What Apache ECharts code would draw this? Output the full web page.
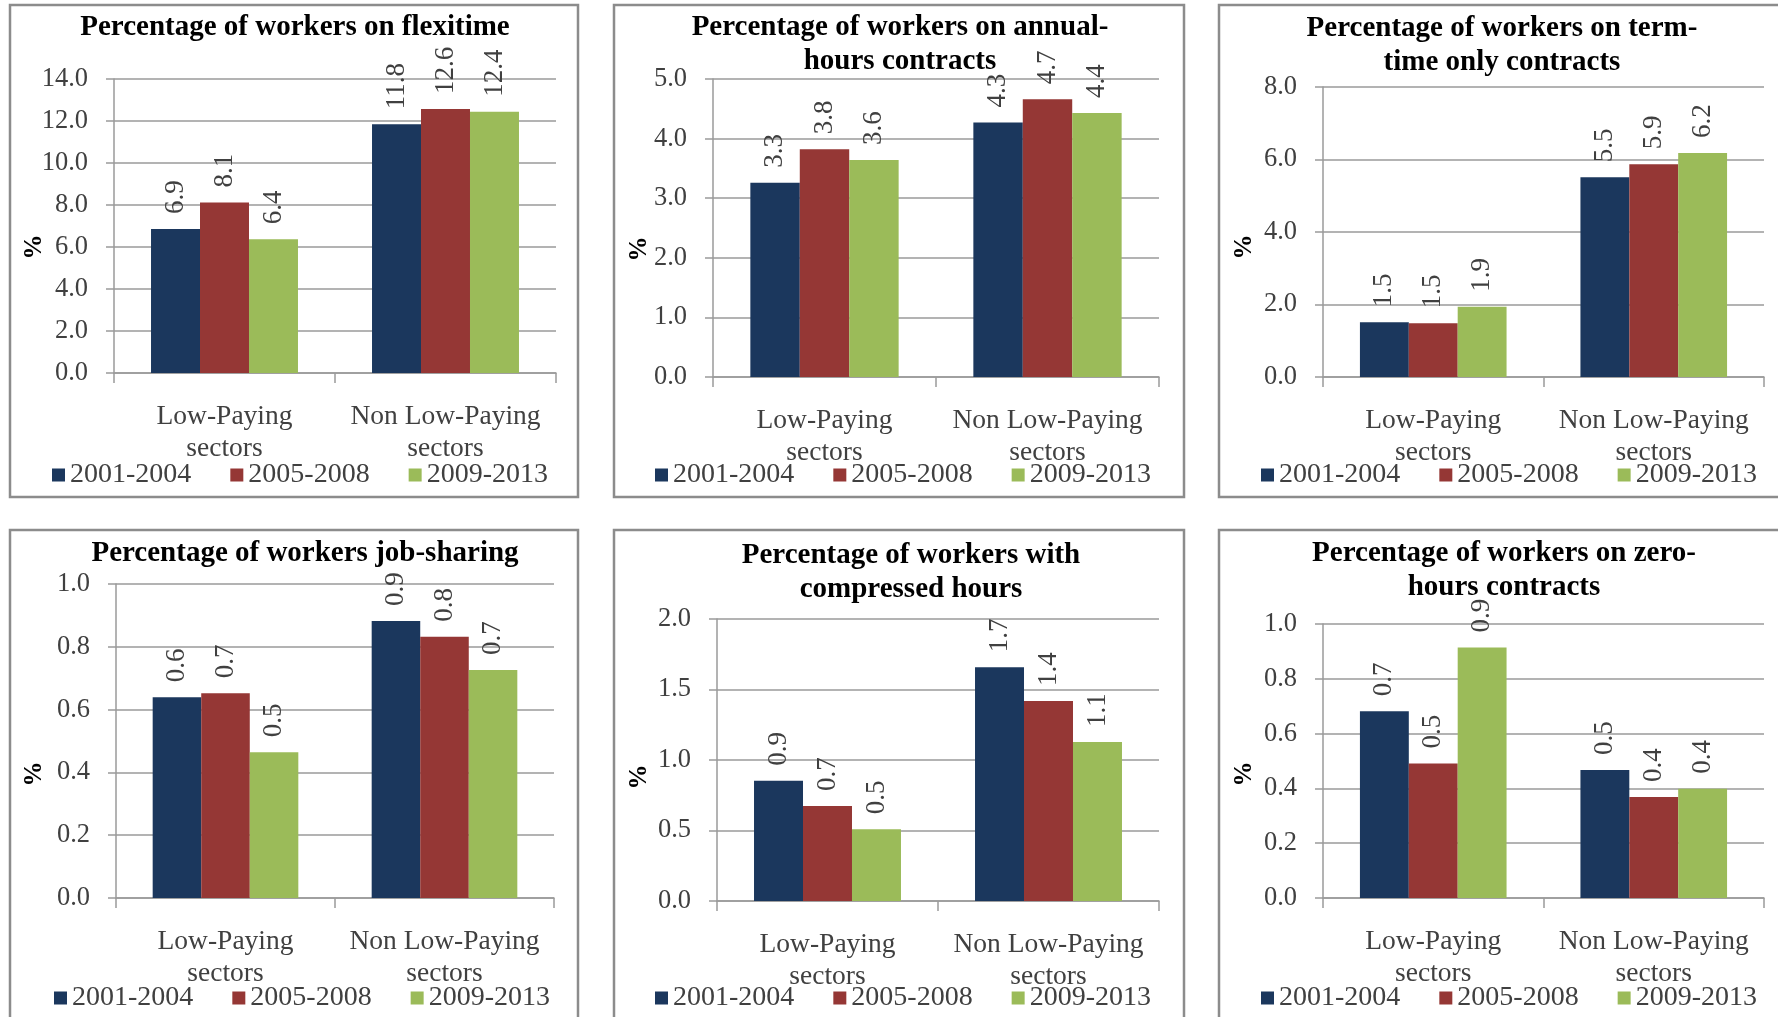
<!DOCTYPE html>
<html>
<head>
<meta charset="utf-8">
<script src="https://cdn.jsdelivr.net/npm/echarts@6/dist/echarts.min.js"></script>
<style>
  html, body { margin: 0; padding: 0; background: #ffffff; overflow: hidden; }
  #chart { width: 1778px; height: 1017px; }
</style>
</head>
<body>
<div id="chart"></div>
<script>
// Sector groups on the x axis and the three survey periods
const sectors = ['Low-Paying\nsectors', 'Non Low-Paying\nsectors'];
const periods = ['2001-2004', '2005-2008', '2009-2013'];
const periodColors = ['#1B375D', '#953735', '#9BBB59'];

const titles = [
  'Percentage of workers on flexitime',
  'Percentage of workers on annual-\nhours contracts',
  'Percentage of workers on term-\ntime only contracts',
  'Percentage of workers job-sharing',
  'Percentage of workers with\ncompressed hours',
  'Percentage of workers on zero-\nhours contracts'
];

// Share of workers (%), one row per period: [low-paying, non low-paying]
const flexitime   = [[6.86, 11.84], [8.12, 12.57], [6.37, 12.44]];
const annualHours = [[3.26, 4.27], [3.82, 4.66], [3.64, 4.43]];
const termTime    = [[1.51, 5.51], [1.48, 5.87], [1.94, 6.18]];
const jobSharing  = [[0.639, 0.882], [0.652, 0.832], [0.464, 0.726]];
const compressed  = [[0.852, 1.658], [0.674, 1.418], [0.508, 1.128]];
const zeroHours   = [[0.682, 0.467], [0.491, 0.369], [0.914, 0.399]];

// Value axis range and tick step for each panel
const axisMax  = [14, 5, 8, 1, 2, 1];
const axisStep = [2, 1, 2, 0.2, 0.5, 0.2];

const panelValues = [flexitime, annualHours, termTime, jobSharing, compressed, zeroHours];

// Page layout of the six panels (pixels)
const panels = [
  { frame: [10, 5, 568, 492],    grid: [114, 79, 442, 294],  title: [295, 11],   legend: [52, 461],    unit: [35, 247] },
  { frame: [614, 5, 570, 492],   grid: [713, 79, 446, 298],  title: [900, 11],   legend: [655, 461],   unit: [640, 249] },
  { frame: [1219, 5, 570, 492],  grid: [1323, 87, 441, 290], title: [1502, 12],  legend: [1261, 461],  unit: [1245, 247] },
  { frame: [10, 530, 568, 492],  grid: [116, 584, 438, 314], title: [305, 537],  legend: [54, 984],    unit: [35, 774] },
  { frame: [614, 530, 570, 492], grid: [717, 619, 442, 282], title: [911, 539],  legend: [655, 984],   unit: [640, 777] },
  { frame: [1219, 530, 570, 492],grid: [1323, 624, 441, 274],title: [1504, 537], legend: [1261, 984],  unit: [1245, 774] }
];

const FONT = 'Liberation Serif';
const TEXT_GREY = '#404040';
const LINE_GREY = '#9a9a9a';

const oneDecimal = v => (Math.round(v * 10) / 10).toFixed(1);

const option = {
  animation: false,
  backgroundColor: '#ffffff',
  textStyle: { fontFamily: FONT },
  title: [],
  legend: [],
  grid: [],
  xAxis: [],
  yAxis: [],
  series: [],
  graphic: []
};

panels.forEach((p, i) => {
  option.grid.push({
    left: p.grid[0], top: p.grid[1], width: p.grid[2], height: p.grid[3],
    containLabel: false, outerBoundsMode: 'none'
  });

  option.title.push({
    text: titles[i],
    left: p.title[0], top: p.title[1],
    textAlign: 'center', padding: 0,
    textStyle: { fontFamily: FONT, fontSize: 29, fontWeight: 'bold', color: '#000000', lineHeight: 34 }
  });

  option.legend.push({
    data: periods,
    left: p.legend[0], top: p.legend[1],
    orient: 'horizontal', icon: 'rect',
    itemWidth: 13, itemHeight: 13, itemGap: 39,
    padding: 0, selectedMode: false,
    textStyle: { fontFamily: FONT, fontSize: 28, color: TEXT_GREY, lineHeight: 28 }
  });

  option.xAxis.push({
    type: 'category', gridIndex: i, data: sectors,
    axisLine: { show: true, lineStyle: { color: LINE_GREY, width: 1.5 } },
    axisTick: { show: true, length: 10, alignWithLabel: false, lineStyle: { color: LINE_GREY, width: 1.5 } },
    axisLabel: { interval: 0, margin: 28, fontFamily: FONT, fontSize: 27.5, lineHeight: 32, color: TEXT_GREY },
    splitLine: { show: false }
  });

  option.yAxis.push({
    type: 'value', gridIndex: i, min: 0, max: axisMax[i], interval: axisStep[i],
    axisLine: { show: true, lineStyle: { color: LINE_GREY, width: 1.5 } },
    axisTick: { show: true, length: 8, lineStyle: { color: LINE_GREY, width: 1.5 } },
    axisLabel: { margin: 26, fontFamily: FONT, fontSize: 26.5, color: TEXT_GREY, formatter: v => v.toFixed(1) },
    splitLine: { show: true, lineStyle: { color: LINE_GREY, width: 1.5 } }
  });

  periods.forEach((name, k) => {
    option.series.push({
      type: 'bar', name: name, xAxisIndex: i, yAxisIndex: i,
      data: panelValues[i][k],
      itemStyle: { color: periodColors[k] },
      barGap: '0%', barCategoryGap: '33.5%',
      label: {
        show: true, position: 'top', distance: 15, rotate: 90,
        align: 'left', verticalAlign: 'middle',
        fontFamily: FONT, fontSize: 27, color: TEXT_GREY,
        formatter: d => oneDecimal(d.value)
      }
    });
  });

  // panel border
  option.graphic.push({
    type: 'rect', silent: true, z: -1,
    shape: { x: p.frame[0], y: p.frame[1], width: p.frame[2], height: p.frame[3] },
    style: { fill: null, stroke: '#8c8c8c', lineWidth: 2.5 }
  });

  // rotated unit title of the value axis
  option.graphic.push({
    type: 'text', silent: true,
    x: p.unit[0], y: p.unit[1], rotation: Math.PI / 2,
    style: { text: '%', font: 'bold 25px "Liberation Serif"', fill: '#000000', align: 'center', verticalAlign: 'middle' }
  });
});

const chart = echarts.init(document.getElementById('chart'), null, { renderer: 'canvas' });
chart.setOption(option);
</script>
</body>
</html>
